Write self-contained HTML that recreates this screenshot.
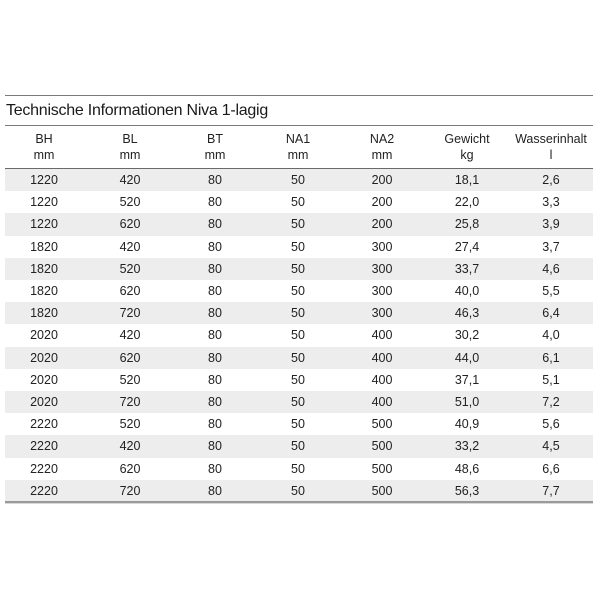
<!DOCTYPE html>
<html>
<head>
<meta charset="utf-8">
<style>
  html,body{margin:0;padding:0;background:#fff;}
  body{width:600px;height:600px;position:relative;overflow:hidden;font-family:"Liberation Sans",Arial,sans-serif;color:#222;}
  .line{position:absolute;left:5px;width:588px;}
  .title{position:absolute;left:6px;top:97px;height:28px;line-height:28px;font-size:16px;letter-spacing:-0.25px;color:#1a1a1a;white-space:nowrap;}
  .hdr{position:absolute;top:131px;width:84px;text-align:center;font-size:12.5px;line-height:16px;color:#222;}
  .row{position:absolute;left:5px;width:588px;height:22.2px;}
  .row.g{background:#eeeded;}
  .c{position:absolute;top:0;width:84px;text-align:center;font-size:12.5px;line-height:22.2px;color:#222;}
</style>
</head>
<body>
<div class="line" style="top:95px;height:1px;background:#7a7a7a;"></div>
<div class="title">Technische Informationen Niva 1-lagig</div>
<div class="line" style="top:125px;height:1px;background:#7a7a7a;"></div>

<div class="hdr" style="left:2px;">BH<br>mm</div>
<div class="hdr" style="left:88px;">BL<br>mm</div>
<div class="hdr" style="left:173px;">BT<br>mm</div>
<div class="hdr" style="left:256px;">NA1<br>mm</div>
<div class="hdr" style="left:340px;">NA2<br>mm</div>
<div class="hdr" style="left:425px;">Gewicht<br>kg</div>
<div class="hdr" style="left:509px;">Wasserinhalt<br>l</div>

<div class="line" style="top:168px;height:1px;background:#6a6a6a;"></div>

<div class="row g" style="top:169px;"><div class="c" style="left:-3px">1220</div><div class="c" style="left:83px">420</div><div class="c" style="left:168px">80</div><div class="c" style="left:251px">50</div><div class="c" style="left:335px">200</div><div class="c" style="left:420px">18,1</div><div class="c" style="left:504px">2,6</div></div>
<div class="row" style="top:191.2px;"><div class="c" style="left:-3px">1220</div><div class="c" style="left:83px">520</div><div class="c" style="left:168px">80</div><div class="c" style="left:251px">50</div><div class="c" style="left:335px">200</div><div class="c" style="left:420px">22,0</div><div class="c" style="left:504px">3,3</div></div>
<div class="row g" style="top:213.4px;"><div class="c" style="left:-3px">1220</div><div class="c" style="left:83px">620</div><div class="c" style="left:168px">80</div><div class="c" style="left:251px">50</div><div class="c" style="left:335px">200</div><div class="c" style="left:420px">25,8</div><div class="c" style="left:504px">3,9</div></div>
<div class="row" style="top:235.6px;"><div class="c" style="left:-3px">1820</div><div class="c" style="left:83px">420</div><div class="c" style="left:168px">80</div><div class="c" style="left:251px">50</div><div class="c" style="left:335px">300</div><div class="c" style="left:420px">27,4</div><div class="c" style="left:504px">3,7</div></div>
<div class="row g" style="top:257.8px;"><div class="c" style="left:-3px">1820</div><div class="c" style="left:83px">520</div><div class="c" style="left:168px">80</div><div class="c" style="left:251px">50</div><div class="c" style="left:335px">300</div><div class="c" style="left:420px">33,7</div><div class="c" style="left:504px">4,6</div></div>
<div class="row" style="top:280px;"><div class="c" style="left:-3px">1820</div><div class="c" style="left:83px">620</div><div class="c" style="left:168px">80</div><div class="c" style="left:251px">50</div><div class="c" style="left:335px">300</div><div class="c" style="left:420px">40,0</div><div class="c" style="left:504px">5,5</div></div>
<div class="row g" style="top:302.2px;"><div class="c" style="left:-3px">1820</div><div class="c" style="left:83px">720</div><div class="c" style="left:168px">80</div><div class="c" style="left:251px">50</div><div class="c" style="left:335px">300</div><div class="c" style="left:420px">46,3</div><div class="c" style="left:504px">6,4</div></div>
<div class="row" style="top:324.4px;"><div class="c" style="left:-3px">2020</div><div class="c" style="left:83px">420</div><div class="c" style="left:168px">80</div><div class="c" style="left:251px">50</div><div class="c" style="left:335px">400</div><div class="c" style="left:420px">30,2</div><div class="c" style="left:504px">4,0</div></div>
<div class="row g" style="top:346.6px;"><div class="c" style="left:-3px">2020</div><div class="c" style="left:83px">620</div><div class="c" style="left:168px">80</div><div class="c" style="left:251px">50</div><div class="c" style="left:335px">400</div><div class="c" style="left:420px">44,0</div><div class="c" style="left:504px">6,1</div></div>
<div class="row" style="top:368.8px;"><div class="c" style="left:-3px">2020</div><div class="c" style="left:83px">520</div><div class="c" style="left:168px">80</div><div class="c" style="left:251px">50</div><div class="c" style="left:335px">400</div><div class="c" style="left:420px">37,1</div><div class="c" style="left:504px">5,1</div></div>
<div class="row g" style="top:391px;"><div class="c" style="left:-3px">2020</div><div class="c" style="left:83px">720</div><div class="c" style="left:168px">80</div><div class="c" style="left:251px">50</div><div class="c" style="left:335px">400</div><div class="c" style="left:420px">51,0</div><div class="c" style="left:504px">7,2</div></div>
<div class="row" style="top:413.2px;"><div class="c" style="left:-3px">2220</div><div class="c" style="left:83px">520</div><div class="c" style="left:168px">80</div><div class="c" style="left:251px">50</div><div class="c" style="left:335px">500</div><div class="c" style="left:420px">40,9</div><div class="c" style="left:504px">5,6</div></div>
<div class="row g" style="top:435.4px;"><div class="c" style="left:-3px">2220</div><div class="c" style="left:83px">420</div><div class="c" style="left:168px">80</div><div class="c" style="left:251px">50</div><div class="c" style="left:335px">500</div><div class="c" style="left:420px">33,2</div><div class="c" style="left:504px">4,5</div></div>
<div class="row" style="top:457.6px;"><div class="c" style="left:-3px">2220</div><div class="c" style="left:83px">620</div><div class="c" style="left:168px">80</div><div class="c" style="left:251px">50</div><div class="c" style="left:335px">500</div><div class="c" style="left:420px">48,6</div><div class="c" style="left:504px">6,6</div></div>
<div class="row g" style="top:479.8px;"><div class="c" style="left:-3px">2220</div><div class="c" style="left:83px">720</div><div class="c" style="left:168px">80</div><div class="c" style="left:251px">50</div><div class="c" style="left:335px">500</div><div class="c" style="left:420px">56,3</div><div class="c" style="left:504px">7,7</div></div>

<div class="line" style="top:501px;height:2px;background:#9a9a9a;"></div>
<div class="line" style="top:503px;height:1px;background:#d8d8d8;"></div>
</body>
</html>
